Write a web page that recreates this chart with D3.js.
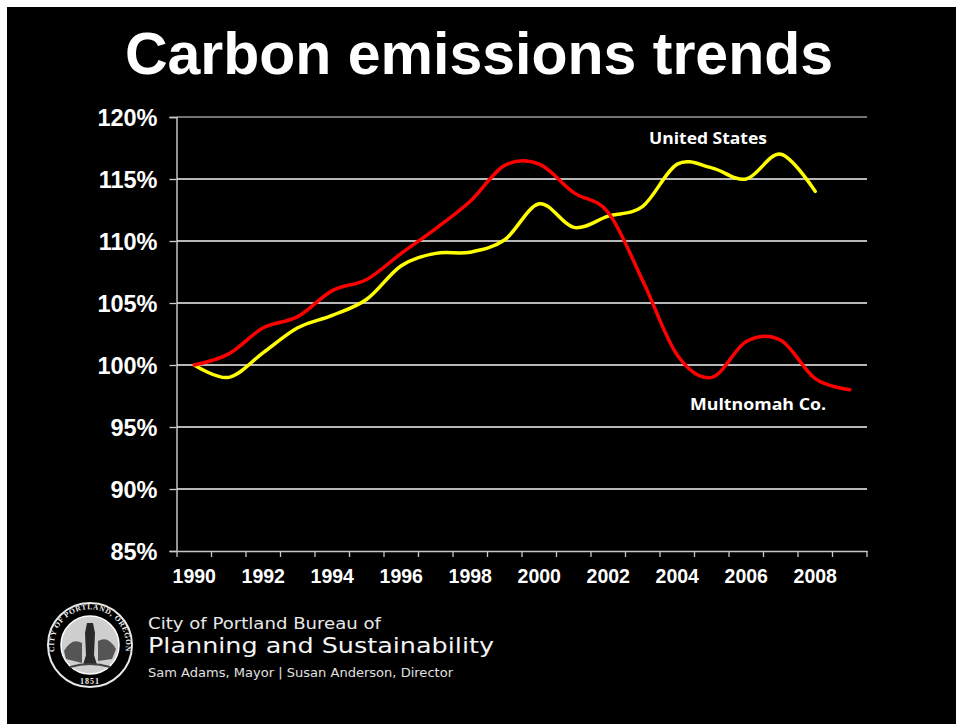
<!DOCTYPE html>
<html>
<head>
<meta charset="utf-8">
<script src="https://cdn.jsdelivr.net/npm/d3@7"></script>
<style>
  html, body { margin: 0; padding: 0; background: #fff; }
  svg { display: block; }
</style>
</head>
<body>
<svg id="chart"></svg>
<script>
// values (% of 1990 emissions)
var years = d3.range(1990, 2010);
var usYears = d3.range(1990, 2009);
var usValues = [100, 99.0, 101.0, 103.0, 104.0, 105.3, 108.0, 109.0, 109.1, 110.1, 113.0, 111.1, 112.0, 112.8, 116.2, 115.9, 115.0, 117.0, 114.0];
var multYears = d3.range(1990, 2010);
var multValues = [100, 100.9, 103.0, 103.9, 106.0, 106.9, 109.0, 111.0, 113.2, 116.1, 116.2, 113.9, 112.3, 106.8, 100.8, 99.0, 101.9, 102.0, 98.9, 98.0];
var yTicks = [85, 90, 95, 100, 105, 110, 115, 120];
var xLabels = [1990, 1992, 1994, 1996, 1998, 2000, 2002, 2004, 2006, 2008];

var width = 956, height = 724;

var svg = d3.select("#chart")
  .attr("width", width)
  .attr("height", height);

// white page with the black slide on it
svg.append("rect").attr("width", width).attr("height", height).attr("fill", "#fff");
svg.append("rect").attr("x", 7).attr("y", 7).attr("width", width - 7).attr("height", height - 7).attr("fill", "#000");

svg.append("text")
  .attr("x", 479)
  .attr("y", 74)
  .attr("text-anchor", "middle")
  .style("font-family", "'Liberation Sans', Arial, sans-serif")
  .style("font-weight", "bold")
  .style("font-size", "59px")
  .attr("fill", "#fff")
  .text("Carbon emissions trends");

var x = d3.scaleBand().domain(years).range([177, 867]).padding(0);
var y = d3.scaleLinear().domain([85, 120]).range([551, 117]);

var cx = function(yr) { return x(yr) + x.bandwidth() / 2; };

// gridlines
svg.append("g")
  .selectAll("line")
  .data(yTicks.filter(d => d !== 85))
  .enter().append("line")
  .attr("x1", 177).attr("x2", 867)
  .attr("y1", d => y(d)).attr("y2", d => y(d))
  .attr("stroke", d => d === 120 ? "#9a9a9a" : "#f4f4f4")
  .attr("stroke-width", 1.5);

// y axis
var yAxis = svg.append("g")
  .attr("transform", "translate(176.5,0)")
  .call(d3.axisLeft(y).tickValues(yTicks).tickSize(7).tickFormat(d => d + "%"));
yAxis.select(".domain").attr("stroke", "#e0e0e0").attr("stroke-width", 1.3);
yAxis.selectAll(".tick line").attr("stroke", "#d0d0d0").attr("stroke-width", 1.3);
yAxis.selectAll(".tick text")
  .attr("x", -19)
  .attr("dy", "0.36em")
  .attr("fill", "#fff")
  .style("font-family", "'Liberation Sans', Arial, sans-serif")
  .style("font-weight", "bold")
  .style("font-size", "23.5px");

// x axis, ticks on the band edges
var xAxis = svg.append("g")
  .attr("transform", "translate(0,551)")
  .call(d3.axisBottom(x).tickValues(xLabels).tickSize(0).tickPadding(18));
xAxis.select(".domain").attr("stroke", "#c8c8c8").attr("stroke-width", 1.4);
xAxis.selectAll(".tick text")
  .attr("fill", "#fff")
  .style("font-family", "'Liberation Sans', Arial, sans-serif")
  .style("font-weight", "bold")
  .style("font-size", "19.5px");

svg.append("g")
  .selectAll("line")
  .data(years.concat([2010]))
  .enter().append("line")
  .attr("x1", d => d === 2010 ? 867 : x(d))
  .attr("x2", d => d === 2010 ? 867 : x(d))
  .attr("y1", 551).attr("y2", 557)
  .attr("stroke", "#c8c8c8")
  .attr("stroke-width", 1.3);

// series
var line = d3.line()
  .x(d => cx(d[0]))
  .y(d => y(d[1]))
  .curve(d3.curveCardinal.tension(0));

svg.append("path")
  .datum(usYears.map((yr, i) => [yr, usValues[i]]))
  .attr("d", line)
  .attr("fill", "none")
  .attr("stroke", "#ffff00")
  .attr("stroke-width", 3.5)
  .attr("stroke-linecap", "round");

svg.append("path")
  .datum(multYears.map((yr, i) => [yr, multValues[i]]))
  .attr("d", line)
  .attr("fill", "none")
  .attr("stroke", "#ff0000")
  .attr("stroke-width", 3.5)
  .attr("stroke-linecap", "round");

var labelFont = "'Open Sans', 'Noto Sans', sans-serif";
svg.append("text")
  .attr("x", 649).attr("y", 144)
  .attr("fill", "#fff")
  .style("font-family", labelFont)
  .style("font-weight", "bold")
  .style("font-size", "16px")
  .attr("textLength", 118)
  .attr("lengthAdjust", "spacingAndGlyphs")
  .text("United States");

svg.append("text")
  .attr("x", 690).attr("y", 410)
  .attr("fill", "#fff")
  .style("font-family", labelFont)
  .style("font-weight", "bold")
  .style("font-size", "16px")
  .attr("textLength", 136)
  .attr("lengthAdjust", "spacingAndGlyphs")
  .text("Multnomah Co.");

// bureau logo and name
var seal = svg.append("g").attr("transform", "translate(90,645)");
seal.append("circle").attr("r", 42).attr("fill", "none").attr("stroke", "#e8e8e8").attr("stroke-width", 2);
seal.append("circle").attr("r", 29).attr("fill", "#cfcfcf");
seal.append("circle").attr("r", 29).attr("fill", "none").attr("stroke", "#fff").attr("stroke-width", 1.5);
seal.append("path").attr("id", "sealArc")
  .attr("d", "M -34 12 A 36 36 0 1 1 34 12")
  .attr("fill", "none");
seal.append("text")
  .attr("fill", "#eee")
  .style("font-family", "'Liberation Serif', serif")
  .style("font-weight", "bold")
  .style("font-size", "7.5px")
  .attr("letter-spacing", "0.6px")
  .append("textPath")
  .attr("href", "#sealArc")
  .attr("startOffset", "50%")
  .attr("text-anchor", "middle")
  .text("CITY OF PORTLAND, OREGON");
seal.append("text")
  .attr("y", 39).attr("text-anchor", "middle")
  .attr("fill", "#eee")
  .style("font-family", "'Liberation Serif', serif")
  .style("font-weight", "bold")
  .style("font-size", "8px")
  .attr("letter-spacing", "1px")
  .text("1851");
// rough figure and scenery inside the seal
seal.append("path")
  .attr("d", "M -26 6 Q -18 -8 -8 -2 L -8 18 L -24 14 Z M 8 -4 Q 18 -10 26 4 L 22 14 L 8 16 Z")
  .attr("fill", "#555");
seal.append("path")
  .attr("d", "M -3 -22 L 3 -22 L 5 -12 L 4 10 L 7 20 L -7 20 L -4 10 L -5 -12 Z")
  .attr("fill", "#2a2a2a");
seal.append("path")
  .attr("d", "M -20 22 Q 0 16 20 22")
  .attr("fill", "none").attr("stroke", "#444").attr("stroke-width", 2);

var bureauFont = "'DejaVu Sans', 'Open Sans', sans-serif";
svg.append("text")
  .attr("x", 148).attr("y", 629)
  .attr("fill", "#e8e8e8")
  .style("font-family", bureauFont)
  .style("font-size", "15px")
  .attr("textLength", 233)
  .attr("lengthAdjust", "spacingAndGlyphs")
  .text("City of Portland Bureau of");
svg.append("text")
  .attr("x", 148).attr("y", 653)
  .attr("fill", "#f4f4f4")
  .style("font-family", bureauFont)
  .style("font-size", "21px")
  .attr("textLength", 346)
  .attr("lengthAdjust", "spacingAndGlyphs")
  .text("Planning and Sustainability");
svg.append("text")
  .attr("x", 148).attr("y", 677)
  .attr("fill", "#e0e0e0")
  .style("font-family", bureauFont)
  .style("font-size", "11.5px")
  .attr("textLength", 305)
  .attr("lengthAdjust", "spacingAndGlyphs")
  .text("Sam Adams, Mayor | Susan Anderson, Director");
</script>
</body>
</html>
